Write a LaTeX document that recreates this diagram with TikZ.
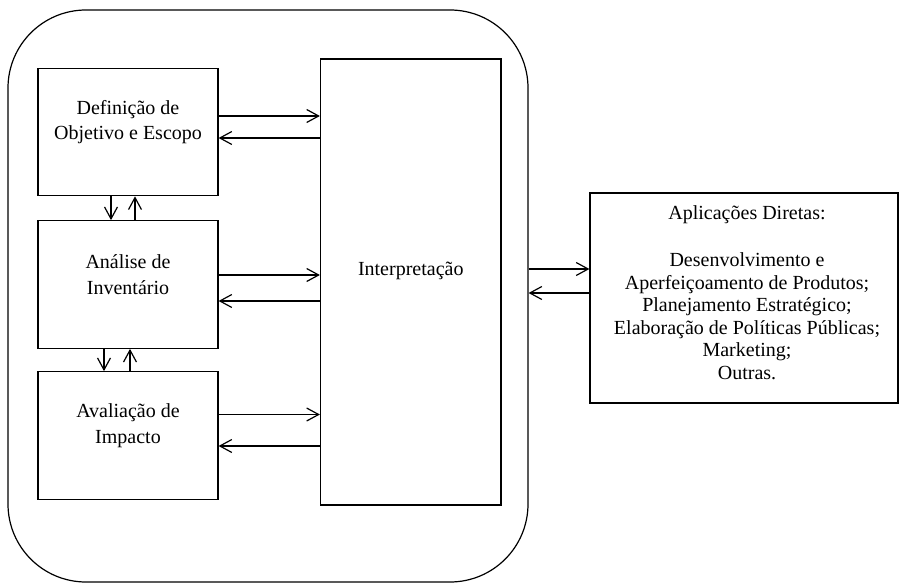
\documentclass[tikz,border=0pt]{standalone}
\usepackage{fontspec}
\setmainfont{Liberation Serif}
\usetikzlibrary{arrows.meta}

\begin{document}
\begin{tikzpicture}[x=1pt,y=-1pt,line width=1.2pt,
  every node/.style={font=\fontsize{20}{25.5}\selectfont},
  box/.style={draw,minimum width=180pt,minimum height=127.5pt,inner sep=0pt},
  txt/.style={align=center,yshift=10pt},
  arr/.style={-{Straight Barb[length=12pt,width=13pt]}}]
  \useasboundingbox (0,0) rectangle (900,583);
  \node[draw,rounded corners=78pt,minimum width=520pt,minimum height=572pt,inner sep=0pt] (frame) at (268,296) {};
  \node[box,label={[txt]center:{Definição de\\Objetivo e Escopo}}] (def) at (128,132) {};
  \node[box,label={[txt]center:{Análise de\\Inventário}}] (ana) at (128,284.5) {};
  \node[box,label={[txt]center:{Avaliação de\\Impacto}}] (ava) at (128,435.5) {};
  \node[box,minimum width=180.5pt,minimum height=446pt,label={[txt,yshift=1pt]center:{Interpretação}}] (interp) at (410.75,282) {};
  \node[box,minimum width=308pt,minimum height=210pt,
    label={[align=center,yshift=5.5pt,xshift=3pt,font=\fontsize{20}{22.5}\selectfont]center:{Aplicações Diretas:\\[25pt]Desenvolvimento e\\Aperfeiçoamento de Produtos;\\Planejamento Estratégico;\\Elaboração de Políticas Públicas;\\Marketing;\\Outras.}}] (apl) at (744,298) {};
  % ida e volta com a interpretacao
  \foreach \b/\r/\l in {def/16/-6, ana/9.5/-16.5, ava/21/-10.5} {
    \draw[arr] ([yshift=\r pt]\b.east) -- ([yshift=\r pt]\b.east -| interp.west);
    \draw[arr] ([yshift=\l pt]\b.east -| interp.west) -- ([yshift=\l pt]\b.east);
  }
  % entre as fases
  \foreach \a/\b/\d/\u in {def/ana/-17/7, ana/ava/-24/2} {
    \draw[arr] ([xshift=\d pt]\a.south) -- ([xshift=\d pt]\a.south |- \b.north);
    \draw[arr] ([xshift=\u pt]\a.south |- \b.north) -- ([xshift=\u pt]\a.south);
  }
  \draw[arr] ([yshift=29pt]apl.west -| frame.east) -- ([yshift=29pt]apl.west);
  \draw[arr] ([yshift=5pt]apl.west) -- ([yshift=5pt]apl.west -| frame.east);
\end{tikzpicture}
\end{document}
